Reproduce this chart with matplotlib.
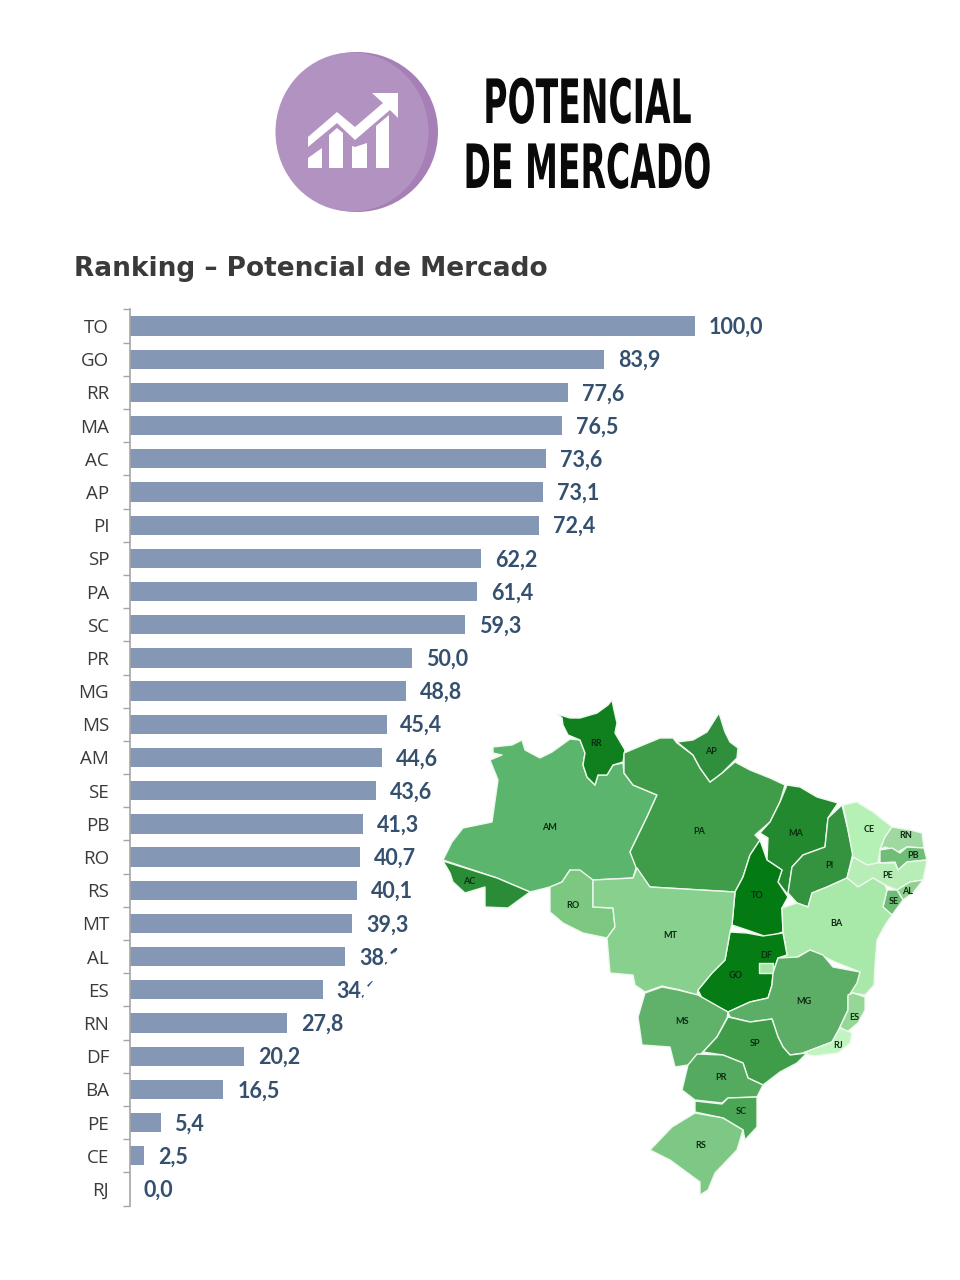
import matplotlib
matplotlib.use("Agg")
import matplotlib.pyplot as plt
import matplotlib.patheffects as pe
from matplotlib.patches import Polygon, Ellipse
from matplotlib.transforms import Affine2D

states = ["TO", "GO", "RR", "MA", "AC", "AP", "PI", "SP", "PA", "SC", "PR", "MG", "MS", "AM",
          "SE", "PB", "RO", "RS", "MT", "AL", "ES", "RN", "DF", "BA", "PE", "CE", "RJ"]
values = [100.0, 83.9, 77.6, 76.5, 73.6, 73.1, 72.4, 62.2, 61.4, 59.3, 50.0, 48.8, 45.4, 44.6,
          43.6, 41.3, 40.7, 40.1, 39.3, 38.1, 34.1, 27.8, 20.2, 16.5, 5.4, 2.5, 0.0]

# map outlines (pixel coords)
outlines = {
    "AM": [(493,747),(512,745),(522,740),(525,750),(540,758),(552,752),(570,739),(580,740),(585,753),(583,765),(587,777),(595,785),(598,775),(607,775),(613,765),(623,763),(624,773),(633,785),(657,795),(647,817),(630,852),(637,865),(633,878),(593,880),(570,870),(562,882),(550,887),(530,892),(497,878),(443,860),(452,842),(463,828),(492,822),(498,780),(490,760),(502,755),(493,753)],
    "RR": [(557,714),(570,718),(580,718),(597,713),(608,705),(612,700),(614,710),(617,723),(615,733),(625,750),(623,762),(613,765),(607,775),(598,775),(595,785),(587,777),(583,765),(585,753),(580,740),(568,735),(563,725),(562,718)],
    "AC": [(443,861),(497,878),(530,892),(508,908),(485,907),(485,887),(465,893),(453,882),(450,873)],
    "RO": [(550,887),(562,882),(570,870),(580,870),(593,880),(593,907),(613,908),(615,927),(607,938),(583,933),(563,923),(550,912)],
    "PA": [(624,753),(643,745),(660,738),(673,738),(677,743),(693,755),(700,768),(710,782),(722,773),(735,762),(750,770),(770,778),(785,785),(780,802),(770,822),(755,835),(760,840),(750,855),(743,877),(735,892),(650,887),(637,870),(630,852),(647,817),(657,795),(633,785),(624,773)],
    "AP": [(677,742),(693,740),(707,732),(719,713),(725,732),(730,742),(738,748),(737,758),(722,773),(710,782),(700,768),(693,755)],
    "MA": [(787,785),(800,787),(817,797),(838,803),(828,818),(825,847),(803,855),(792,867),(788,895),(778,882),(782,870),(767,860),(768,838),(760,833),(770,822),(780,802)],
    "PI": [(842,805),(848,830),(853,853),(847,878),(827,887),(812,893),(808,907),(797,903),(788,893),(792,867),(803,855),(825,847),(828,818)],
    "TO": [(760,840),(767,860),(782,870),(778,882),(788,897),(782,908),(783,932),(767,937),(747,930),(732,925),(735,892),(743,877),(750,855)],
    "CE": [(843,805),(857,802),(873,812),(892,827),(885,837),(880,850),(878,863),(867,865),(853,857),(848,830)],
    "RN": [(892,827),(910,830),(922,833),(924,848),(907,847),(898,852),(885,847),(880,850),(885,837)],
    "PB": [(880,850),(892,848),(900,853),(907,847),(924,848),(927,860),(907,862),(898,870),(895,862),(880,863)],
    "PE": [(853,857),(867,865),(878,863),(895,863),(898,870),(907,862),(927,860),(923,880),(910,882),(897,890),(885,885),(873,878),(858,887),(847,878)],
    "AL": [(897,890),(910,882),(923,880),(913,893),(903,900)],
    "SE": [(887,890),(897,890),(903,900),(892,915),(883,907)],
    "BA": [(782,908),(797,903),(808,907),(812,893),(827,887),(847,878),(858,887),(873,878),(885,885),(887,890),(883,907),(892,915),(885,925),(877,940),(875,965),(874,985),(865,995),(853,993),(848,995),(850,985),(860,972),(835,962),(810,950),(795,958),(778,960),(787,955),(785,943),(783,932)],
    "GO": [(730,932),(747,933),(763,936),(783,933),(787,955),(778,958),(773,973),(772,985),(768,998),(750,1002),(728,1012),(703,1000),(698,990),(712,973),(725,960)],
    "DF": [(759,963),(773,963),(773,973),(759,973)],
    "MT": [(593,880),(633,878),(637,868),(650,887),(735,892),(732,925),(730,932),(725,960),(712,973),(698,990),(697,995),(680,990),(662,986),(645,992),(635,985),(633,975),(610,973),(607,938),(615,927),(613,908),(593,907)],
    "MS": [(645,993),(662,987),(678,990),(698,995),(728,1012),(727,1018),(717,1037),(703,1052),(688,1065),(675,1067),(670,1047),(642,1045),(638,1017)],
    "MG": [(728,1012),(750,1002),(768,998),(772,985),(773,973),(778,958),(798,957),(810,950),(823,955),(833,967),(860,972),(857,983),(848,997),(848,1010),(840,1027),(832,1042),(803,1053),(790,1055),(783,1047),(778,1037),(772,1019),(750,1022),(730,1017)],
    "ES": [(848,995),(853,993),(865,997),(865,1010),(858,1023),(847,1032),(840,1027),(848,1010)],
    "RJ": [(803,1053),(832,1042),(840,1028),(852,1033),(850,1043),(838,1053),(813,1056)],
    "SP": [(728,1017),(750,1022),(772,1019),(778,1037),(783,1047),(790,1055),(807,1053),(797,1063),(780,1072),(763,1085),(748,1078),(743,1063),(723,1055),(703,1052),(717,1037)],
    "PR": [(697,1054),(723,1055),(743,1063),(748,1078),(763,1085),(757,1097),(728,1098),(722,1103),(695,1100),(682,1090),(688,1065)],
    "SC": [(695,1101),(722,1104),(728,1098),(757,1097),(757,1127),(745,1140),(743,1130),(723,1118),(695,1112)],
    "RS": [(695,1113),(723,1118),(743,1130),(737,1150),(715,1173),(708,1190),(700,1195),(700,1182),(670,1160),(650,1150),(672,1127)],
}
state_colors = {
    "TO": "#047a12", "GO": "#067c14", "RR": "#10801f", "MA": "#23892f", "AC": "#2a8c36", "AP": "#2f8f3c",
    "PI": "#34933f", "SP": "#3f9d49", "PA": "#3f9d49", "SC": "#4aa555", "PR": "#54ab5f", "MG": "#5cae66",
    "MS": "#60b26a", "AM": "#5cb56c", "SE": "#6dbb76", "PB": "#70bd78", "RO": "#7cc880", "RS": "#7cc884",
    "MT": "#87d08d", "AL": "#8fd090", "ES": "#95d795", "RN": "#9fd8a0", "DF": "#a8e4a8", "BA": "#a8e8a8",
    "PE": "#b8edb8", "CE": "#b5f0b5", "RJ": "#c0f5c0",
}
label_pos = {
    "AM": (549,827), "RR": (596,743), "AP": (711,752), "PA": (699,832), "MA": (796,834), "PI": (829,865),
    "CE": (869,829), "RN": (906,836), "PB": (913,856), "PE": (888,875), "AL": (907,891), "SE": (894,901),
    "AC": (469,882), "RO": (573,905), "MT": (670,935), "TO": (757,896), "BA": (836,924), "GO": (736,976),
    "DF": (766,956), "MG": (804,1001), "ES": (854,1018), "RJ": (838,1045), "MS": (682,1022), "SP": (755,1044),
    "PR": (721,1078), "SC": (741,1112), "RS": (701,1146),
}

# logo icon shapes (pixel coords)
icon_arrow = [(308,137),(337,112),(355,127),(383,103),(372,93),(398,93),(398,118),(390,110),(355,140),(337,123),(308,147)]
icon_bars = [
    [(308,168),(322,168),(322,148),(308,158)],
    [(329,168),(343,168),(343,133),(337,128),(329,135)],
    [(352,168),(367,168),(367,143),(355,147),(352,146)],
    [(376,168),(389,168),(389,115),(376,126)],
]
# white patch of the map picture that cuts the labels
label_cover = [(397,950),(430,935),(430,1010),(358,1010),(366,990)]


class Squash(pe.AbstractPathEffect):
    # stretches the glyphs vertically about a fixed pixel row, no condensed bold font here
    def __init__(self, sy, y0):
        super().__init__()
        self.sy = sy
        self.y0 = y0

    def draw_path(self, renderer, gc, tpath, affine, rgbFace=None):
        t = affine + Affine2D().translate(0, -self.y0).scale(1, self.sy).translate(0, self.y0)
        renderer.draw_path(gc, tpath, t, rgbFace)


W, H = 960, 1280
fig = plt.figure(figsize=(W / 100, H / 100), dpi=100)

# bars
ax = fig.add_axes([130 / W, 1 - 1205.6 / H, 565 / W, 896.2 / H])
ypos = list(range(len(states)))
ax.barh(ypos, values, height=0.58, color="#8497b5")
ax.set_xlim(0, 100)
ax.set_ylim(len(states) - 0.5, -0.5)
ax.set_yticks(ypos)
ax.set_yticklabels(states, family="Open Sans", fontsize=13.5, color="#3a3a3a")
ax.set_yticks([i - 0.5 for i in range(len(states) + 1)], minor=True)
ax.tick_params(axis="y", which="major", length=0, pad=15)
ax.tick_params(axis="y", which="minor", length=5, color="#a6a6a6", width=1)
ax.xaxis.set_visible(False)
for s in ["top", "right", "bottom"]:
    ax.spines[s].set_visible(False)
ax.spines["left"].set_color("#a6a6a6")
ax.spines["left"].set_linewidth(1.2)
for y, v in zip(ypos, values):
    ax.annotate(f"{v:.1f}".replace(".", ","), (v, y), xytext=(10, -1), textcoords="offset points",
                va="center", ha="left", family="Lato", fontweight="bold", fontsize=15.5,
                color="#34506e", annotation_clip=False)

# overlay in picture pixels: logo, title, map
ov = fig.add_axes([0, 0, 1, 1], zorder=5)
ov.set_xlim(0, W)
ov.set_ylim(H, 0)
ov.axis("off")
ov.patch.set_alpha(0)

ov.add_patch(Ellipse((357, 132), 162, 160, color="#a67fb6", lw=0))
ov.add_patch(Ellipse((352, 132), 153, 159, color="#b292c0", lw=0))
ov.add_patch(Polygon(icon_arrow, color="white", lw=0))
for b in icon_bars:
    ov.add_patch(Polygon(b, color="white", lw=0))

ov.text(587, 123, "POTENCIAL", family="Liberation Sans Narrow", fontweight="bold", fontsize=23.8,
        ha="center", va="baseline", color="#0a0a0a", path_effects=[Squash(1.85, H - 123)])
ov.text(587, 188, "DE MERCADO", family="Liberation Sans Narrow", fontweight="bold", fontsize=23.8,
        ha="center", va="baseline", color="#0a0a0a", path_effects=[Squash(1.85, H - 188)])
ov.text(74, 269, "Ranking – Potencial de Mercado", family="DejaVu Sans", fontweight="bold", fontsize=19,
        ha="left", va="center", color="#3a3a3a")

ov.add_patch(Polygon(label_cover, color="white", lw=0))
for st, pts in outlines.items():
    ov.add_patch(Polygon(pts, facecolor=state_colors[st], edgecolor="#eef8ee", lw=1.0, joinstyle="round"))
for st, (x, y) in label_pos.items():
    ov.text(x, y, st, fontsize=6.5, family="Lato", fontweight="bold", ha="center", va="center", color="#0d2a12")

fig.savefig("out.png", dpi=100, facecolor="white")
